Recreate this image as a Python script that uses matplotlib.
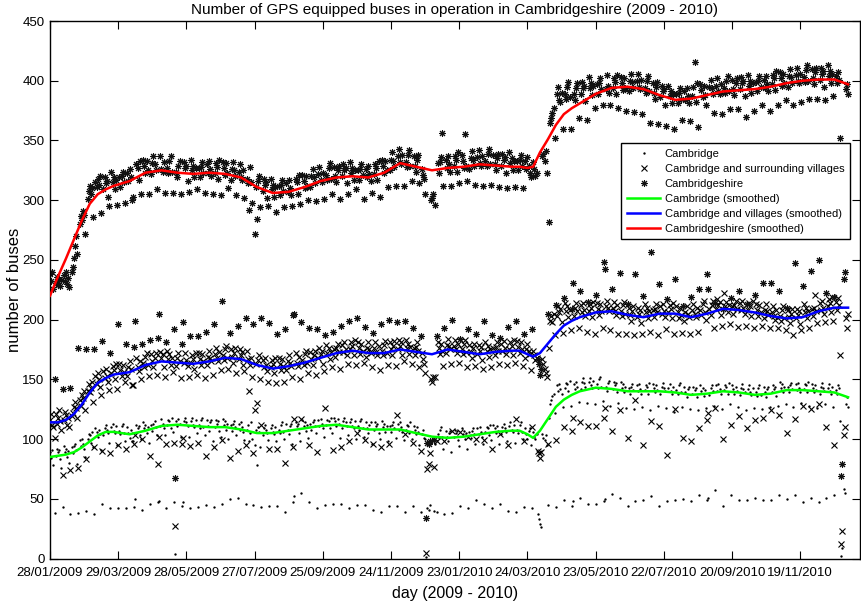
import matplotlib
matplotlib.use("Agg")
import matplotlib.pyplot as plt

plt.rcParams['font.family'] = ['Liberation Sans', 'DejaVu Sans']

# ---------------- data (one row per calendar week, Mon..Sun; first row starts Wed 28/01/2009) ----------------
shire_rows = [
 [238, 232, 240, 226, 150],
 [231, 236, 229, 234, 228, 233, 142],
 [237, 232, 240, 230, 235, 227, 143],
 [240, 244, 252, 262, 270, 255, 176],
 [280, 287, 283, 291, 288, 272, 175],
 [301, 308, 312, 305, 310, 286, 175],
 [315, 311, 318, 313, 320, 289, 182],
 [309, 319, 314, 316, 303, 295, 172],
 [324, 315, 319, 309, 317, 296, 196],
 [319, 311, 320, 324, 315, 298, 180],
 [323, 316, 326, 319, 300, 303, 177],
 [199, 330, 327, 317, 333, 305, 180],
 [334, 329, 323, 333, 325, 305, 183],
 [322, 331, 337, 330, 325, 309, 185],
 [205, 337, 326, 324, 332, 306, 181],
 [327, 323, 333, 337, 324, 306, 192],
 [67, 324, 319, 329, 333, 305, 180],
 [198, 332, 327, 329, 316, 307, 186],
 [334, 325, 329, 319, 327, 309, 186],
 [327, 319, 328, 332, 323, 306, 190],
 [330, 323, 333, 326, 320, 305, 196],
 [323, 331, 328, 318, 334, 304, 216],
 [332, 327, 321, 331, 323, 310, 189],
 [317, 326, 332, 325, 320, 304, 195],
 [324, 330, 319, 317, 325, 302, 201],
 [318, 314, 292, 328, 315, 298, 196],
 [272, 311, 284, 316, 320, 294, 201],
 [308, 318, 313, 315, 302, 295, 197],
 [318, 309, 313, 303, 311, 290, 188],
 [312, 304, 313, 317, 308, 294, 192],
 [314, 307, 317, 310, 304, 295, 204],
 [205, 318, 315, 305, 321, 297, 198],
 [321, 316, 310, 320, 312, 300, 193],
 [311, 320, 326, 319, 314, 299, 192],
 [322, 328, 317, 315, 323, 301, 187],
 [321, 317, 327, 331, 318, 305, 190],
 [328, 320, 315, 325, 329, 301, 195],
 [320, 330, 325, 327, 314, 305, 199],
 [332, 323, 327, 317, 325, 309, 201],
 [325, 317, 326, 330, 321, 301, 194],
 [326, 319, 329, 322, 316, 306, 189],
 [322, 330, 327, 317, 333, 303, 196],
 [334, 329, 323, 333, 325, 311, 200],
 [325, 334, 340, 333, 328, 312, 198],
 [337, 343, 332, 330, 338, 312, 199],
 [332, 328, 338, 342, 329, 316, 193],
 [337, 329, 324, 334, 338, 314, 186],
 [326, 321, 318, 305, 34, 97, 96],
 [98, 300, 302, 305, 99, 296, 186],
 [331, 323, 332, 336, 356, 312, 193],
 [334, 327, 337, 330, 324, 312, 200],
 [329, 337, 334, 324, 340, 314, 184],
 [338, 333, 327, 355, 329, 316, 192],
 [326, 335, 341, 334, 329, 313, 188],
 [336, 342, 331, 329, 337, 312, 199],
 [333, 329, 339, 343, 330, 313, 187],
 [338, 330, 325, 335, 339, 311, 185],
 [329, 339, 334, 336, 323, 310, 194],
 [340, 331, 335, 325, 333, 311, 199],
 [333, 325, 334, 338, 329, 310, 188],
 [333, 326, 336, 329, 323, 319, 192],
 [332, 326, 320, 323, 167, 163, 154],
 [159, 337, 339, 333, 341, 323, 205],
 [282, 365, 369, 373, 377, 352, 212],
 [389, 395, 384, 382, 390, 360, 218],
 [389, 385, 395, 399, 386, 360, 209],
 [231, 389, 384, 394, 398, 369, 224],
 [389, 399, 394, 396, 383, 367, 215],
 [403, 394, 398, 388, 396, 377, 221],
 [397, 389, 398, 402, 393, 380, 248],
 [242, 393, 405, 396, 390, 380, 226],
 [394, 402, 399, 389, 405, 377, 239],
 [403, 398, 392, 402, 394, 375, 213],
 [391, 400, 406, 399, 394, 374, 238],
 [400, 406, 395, 393, 401, 372, 220],
 [394, 390, 400, 404, 391, 365, 257],
 [398, 390, 385, 395, 399, 364, 230],
 [386, 396, 391, 393, 380, 362, 217],
 [396, 387, 391, 381, 389, 360, 234],
 [389, 381, 390, 394, 385, 367, 211],
 [391, 384, 394, 387, 381, 366, 219],
 [387, 395, 416, 382, 398, 361, 226],
 [397, 392, 386, 396, 388, 380, 238],
 [226, 395, 401, 394, 389, 373, 214],
 [396, 402, 391, 389, 397, 372, 209],
 [394, 390, 400, 404, 391, 376, 218],
 [401, 393, 388, 398, 402, 376, 224],
 [393, 403, 398, 400, 387, 370, 213],
 [405, 396, 400, 390, 398, 375, 221],
 [399, 391, 400, 404, 395, 380, 231],
 [401, 394, 404, 397, 391, 375, 231],
 [397, 405, 402, 392, 408, 380, 224],
 [407, 402, 396, 406, 398, 384, 210],
 [395, 404, 410, 403, 398, 380, 247],
 [405, 411, 400, 398, 406, 382, 228],
 [403, 399, 409, 413, 400, 385, 241],
 [410, 402, 397, 407, 411, 385, 250],
 [401, 411, 406, 408, 395, 384, 222],
 [413, 404, 408, 398, 406, 387, 219],
 [404, 398, 407, 401, 352, 69, 79],
 [234, 240, 393, 397, 389],
]

villages_rows = [
 [116, 121, 112, 110, 101],
 [121, 113, 118, 124, 115, 108, 70],
 [116, 123, 120, 112, 118, 110, 74],
 [119, 122, 127, 131, 126, 118, 76],
 [133, 128, 137, 134, 140, 124, 83],
 [140, 146, 139, 143, 148, 131, 93],
 [153, 146, 155, 150, 144, 137, 90],
 [157, 151, 159, 153, 148, 141, 88],
 [155, 161, 158, 150, 163, 142, 95],
 [163, 158, 153, 162, 156, 148, 92],
 [153, 160, 165, 159, 145, 145, 96],
 [103, 168, 160, 157, 165, 150, 100],
 [164, 160, 169, 172, 162, 153, 86],
 [171, 165, 160, 168, 172, 154, 79],
 [102, 173, 168, 171, 160, 152, 96],
 [174, 167, 171, 162, 168, 156, 97],
 [27, 161, 168, 172, 165, 151, 96],
 [101, 164, 172, 166, 161, 152, 94],
 [164, 170, 167, 159, 172, 154, 97],
 [172, 167, 162, 171, 165, 151, 86],
 [162, 169, 174, 168, 165, 154, 93],
 [171, 176, 168, 165, 173, 158, 99],
 [170, 166, 175, 178, 168, 159, 84],
 [175, 169, 164, 172, 176, 155, 90],
 [167, 175, 170, 173, 162, 157, 95],
 [174, 167, 140, 162, 168, 152, 88],
 [124, 163, 130, 166, 170, 150, 112],
 [166, 160, 168, 162, 157, 148, 92],
 [160, 166, 163, 155, 168, 147, 92],
 [168, 163, 158, 167, 161, 148, 80],
 [158, 165, 170, 164, 161, 152, 93],
 [117, 172, 164, 161, 169, 150, 117],
 [166, 162, 171, 174, 164, 155, 95],
 [173, 167, 162, 170, 174, 154, 89],
 [168, 176, 171, 174, 163, 157, 126],
 [179, 172, 176, 167, 173, 160, 91],
 [175, 169, 176, 180, 173, 159, 93],
 [179, 173, 181, 175, 170, 163, 98],
 [175, 181, 178, 170, 183, 162, 105],
 [181, 176, 171, 180, 174, 164, 99],
 [169, 176, 181, 175, 172, 160, 96],
 [176, 181, 173, 170, 178, 158, 93],
 [174, 170, 179, 182, 172, 162, 96],
 [181, 175, 170, 178, 182, 161, 120],
 [175, 183, 178, 181, 170, 165, 104],
 [183, 176, 180, 171, 177, 163, 97],
 [176, 170, 177, 181, 174, 160, 90],
 [172, 167, 163, 155, 5, 75, 79],
 [88, 150, 148, 152, 77, 152, 98],
 [181, 176, 171, 180, 174, 161, 98],
 [172, 179, 184, 178, 175, 163, 107],
 [178, 183, 175, 172, 180, 164, 106],
 [175, 171, 180, 183, 173, 160, 102],
 [179, 173, 168, 176, 180, 161, 100],
 [171, 179, 174, 177, 166, 159, 99],
 [181, 174, 178, 169, 175, 160, 92],
 [176, 170, 177, 181, 174, 163, 104],
 [180, 174, 182, 176, 171, 162, 95],
 [175, 181, 178, 170, 183, 164, 117],
 [182, 177, 172, 181, 175, 161, 98],
 [168, 175, 180, 174, 171, 158, 110],
 [174, 170, 166, 168, 90, 88, 84],
 [89, 167, 163, 159, 155, 152, 96],
 [176, 199, 203, 198, 205, 187, 99],
 [203, 211, 206, 209, 198, 189, 110],
 [214, 207, 211, 202, 208, 191, 107],
 [118, 203, 210, 214, 207, 193, 114],
 [212, 206, 214, 208, 203, 190, 111],
 [207, 213, 210, 202, 215, 188, 111],
 [214, 209, 204, 213, 207, 193, 118],
 [126, 211, 216, 210, 207, 191, 107],
 [210, 215, 207, 204, 212, 188, 124],
 [207, 203, 212, 215, 205, 188, 101],
 [210, 204, 199, 207, 211, 187, 133],
 [202, 210, 205, 208, 197, 188, 95],
 [213, 206, 210, 201, 207, 190, 115],
 [208, 202, 209, 213, 206, 187, 111],
 [211, 205, 213, 207, 202, 192, 87],
 [206, 212, 209, 201, 214, 188, 125],
 [211, 206, 201, 210, 204, 189, 101],
 [199, 206, 211, 205, 202, 188, 98],
 [208, 213, 205, 202, 210, 190, 109],
 [208, 204, 213, 216, 206, 200, 116],
 [122, 209, 204, 212, 216, 193, 126],
 [209, 217, 212, 215, 204, 195, 100],
 [222, 211, 215, 206, 212, 196, 112],
 [211, 205, 212, 216, 209, 194, 119],
 [214, 208, 216, 210, 205, 195, 109],
 [208, 214, 211, 203, 216, 193, 116],
 [213, 208, 203, 212, 206, 195, 118],
 [201, 208, 213, 207, 204, 193, 124],
 [206, 211, 203, 200, 208, 193, 120],
 [203, 199, 208, 211, 201, 191, 105],
 [208, 202, 197, 205, 209, 187, 117],
 [201, 209, 204, 207, 196, 191, 128],
 [213, 206, 210, 201, 207, 193, 125],
 [209, 203, 210, 221, 207, 197, 129],
 [214, 208, 216, 210, 205, 198, 110],
 [211, 217, 214, 206, 219, 199, 95],
 [215, 208, 218, 212, 170, 12, 23],
 [103, 110, 201, 193, 205],
]

cambridge_rows = [
 [89, 84, 91, 78, 38],
 [86, 92, 89, 91, 83, 76, 43],
 [94, 89, 92, 85, 90, 80, 37],
 [93, 88, 94, 96, 91, 79, 38],
 [99, 94, 100, 96, 92, 85, 40],
 [100, 104, 103, 97, 106, 93, 37],
 [109, 106, 102, 108, 104, 91, 46],
 [103, 109, 112, 108, 105, 97, 42],
 [110, 113, 107, 105, 111, 95, 42],
 [107, 104, 111, 113, 105, 98, 42],
 [110, 105, 101, 108, 98, 98, 43],
 [50, 112, 109, 111, 103, 100, 41],
 [114, 109, 112, 105, 110, 97, 46],
 [112, 107, 113, 115, 110, 103, 47],
 [48, 111, 117, 113, 109, 103, 42],
 [112, 116, 115, 109, 118, 106, 47],
 [4, 115, 111, 117, 113, 102, 44],
 [47, 115, 118, 114, 111, 102, 42],
 [115, 118, 112, 110, 116, 105, 43],
 [112, 109, 116, 118, 110, 103, 45],
 [116, 111, 107, 114, 116, 98, 43],
 [110, 116, 113, 115, 107, 102, 46],
 [117, 112, 115, 108, 113, 100, 50],
 [112, 107, 113, 115, 110, 103, 51],
 [113, 108, 114, 110, 106, 99, 46],
 [108, 112, 98, 105, 114, 100, 45],
 [95, 108, 78, 110, 106, 93, 43],
 [103, 109, 112, 108, 105, 99, 44],
 [109, 112, 106, 104, 110, 98, 44],
 [108, 105, 112, 114, 106, 100, 39],
 [113, 108, 104, 111, 113, 96, 47],
 [52, 114, 111, 113, 105, 98, 55],
 [116, 111, 114, 107, 112, 101, 47],
 [113, 108, 114, 116, 111, 105, 42],
 [116, 111, 117, 113, 109, 102, 45],
 [112, 116, 115, 109, 118, 105, 46],
 [118, 115, 111, 117, 113, 101, 46],
 [109, 115, 118, 114, 111, 103, 42],
 [114, 117, 111, 109, 115, 100, 45],
 [111, 108, 115, 117, 109, 102, 45],
 [114, 109, 105, 112, 114, 96, 41],
 [108, 114, 111, 113, 105, 100, 39],
 [115, 110, 113, 106, 111, 98, 44],
 [111, 106, 112, 114, 109, 101, 44],
 [113, 108, 114, 110, 106, 99, 39],
 [108, 112, 111, 105, 114, 100, 44],
 [111, 108, 104, 110, 106, 95, 39],
 [104, 108, 101, 100, 1, 42, 41],
 [45, 97, 99, 100, 40, 96, 39],
 [104, 101, 108, 110, 102, 92, 37],
 [107, 102, 98, 105, 107, 89, 38],
 [102, 108, 105, 107, 99, 94, 44],
 [109, 104, 107, 100, 105, 92, 42],
 [106, 101, 107, 109, 104, 96, 49],
 [109, 104, 110, 106, 102, 96, 46],
 [106, 110, 109, 103, 112, 99, 42],
 [112, 109, 105, 111, 107, 96, 46],
 [104, 110, 113, 109, 106, 98, 40],
 [111, 114, 108, 106, 112, 97, 39],
 [108, 105, 112, 114, 106, 100, 43],
 [109, 104, 100, 107, 109, 95, 42],
 [106, 102, 100, 104, 37, 33, 29],
 [26, 104, 101, 99, 103, 95, 45],
 [118, 129, 133, 136, 138, 122, 43],
 [145, 140, 146, 142, 138, 127, 49],
 [143, 147, 146, 140, 149, 128, 44],
 [48, 146, 142, 148, 144, 131, 51],
 [142, 148, 151, 147, 144, 130, 46],
 [148, 151, 145, 143, 149, 129, 46],
 [146, 143, 150, 152, 144, 132, 48],
 [50, 144, 140, 147, 149, 128, 54],
 [142, 148, 145, 147, 139, 130, 51],
 [148, 143, 146, 139, 144, 126, 44],
 [143, 138, 144, 146, 141, 125, 48],
 [145, 140, 146, 142, 138, 127, 49],
 [141, 145, 144, 138, 147, 124, 52],
 [146, 143, 139, 145, 141, 128, 44],
 [138, 144, 147, 143, 140, 126, 48],
 [143, 146, 140, 138, 144, 123, 49],
 [141, 138, 145, 147, 139, 127, 50],
 [144, 139, 135, 142, 144, 125, 48],
 [138, 144, 141, 143, 135, 124, 53],
 [145, 140, 143, 136, 141, 126, 49],
 [51, 137, 143, 145, 140, 128, 57],
 [145, 140, 146, 142, 138, 125, 44],
 [141, 145, 144, 138, 147, 129, 53],
 [145, 142, 138, 144, 140, 127, 49],
 [137, 143, 146, 142, 139, 124, 49],
 [142, 145, 139, 137, 143, 126, 51],
 [139, 136, 143, 145, 137, 125, 49],
 [144, 139, 135, 142, 144, 127, 49],
 [139, 145, 142, 144, 136, 128, 53],
 [148, 143, 146, 139, 144, 129, 50],
 [144, 139, 145, 147, 142, 127, 53],
 [146, 141, 147, 143, 139, 130, 47],
 [142, 146, 145, 139, 148, 128, 51],
 [146, 143, 139, 145, 141, 126, 47],
 [138, 144, 147, 143, 140, 129, 51],
 [143, 146, 140, 138, 144, 127, 53],
 [141, 138, 145, 143, 115, 2, 9],
 [58, 55, 129, 135, 127],
]

# smoothed curves (day offset from 28/01/2009)
smooth_days = [0, 7, 14, 21, 28, 35, 42, 49, 56, 70, 84, 98, 112, 126, 140, 154, 168, 182, 196, 210,
               224, 238, 252, 266, 280, 294, 308, 322, 336, 350, 364, 378, 392, 406, 413, 420, 425, 431,
               438, 445, 452, 459, 466, 480, 494, 508, 522, 536, 550, 564, 578, 592, 606, 620, 634, 648,
               662, 676, 690, 702]
shire_smooth = [220, 236, 251, 267, 283, 297, 305, 309, 312, 316, 323, 325, 323, 322, 323, 322, 319, 311,
                306, 307, 311, 316, 319, 320, 319, 323, 331, 328, 325, 327, 328, 330, 329, 328, 328, 327,
                328, 340, 351, 363, 372, 377, 381, 389, 394, 395, 393, 388, 384, 385, 388, 391, 392, 393,
                395, 398, 400, 401, 401, 397]
villages_smooth = [114, 114, 116, 121, 129, 139, 147, 151, 154, 156, 162, 165, 164, 163, 165, 168, 167, 162,
                   159, 161, 164, 168, 172, 174, 172, 172, 175, 173, 171, 175, 173, 171, 173, 174, 174, 171,
                   169, 172, 180, 188, 195, 199, 202, 206, 207, 204, 202, 205, 205, 202, 205, 209, 208, 206,
                   203, 201, 202, 207, 210, 210]
cambridge_smooth = [85, 86, 87, 89, 93, 98, 103, 106, 106, 104, 107, 111, 112, 111, 110, 110, 108, 105, 105,
                    107, 109, 111, 112, 110, 108, 108, 108, 105, 102, 101, 102, 104, 106, 107, 107, 104, 101,
                    107, 117, 127, 133, 137, 140, 143, 142, 140, 140, 140, 139, 137, 138, 140, 139, 137, 138,
                    141, 141, 140, 139, 135]

tick_days = [0, 60, 120, 180, 240, 300, 360, 420, 480, 540, 600, 660]
tick_labels = ['28/01/2009', '29/03/2009', '28/05/2009', '27/07/2009', '25/09/2009', '24/11/2009',
               '23/01/2010', '24/03/2010', '23/05/2010', '22/07/2010', '20/09/2010', '19/11/2010']


def flat(rows):
    return [v for r in rows for v in r]


cambridge = flat(cambridge_rows)
villages = flat(villages_rows)
shire = flat(shire_rows)
assert len(cambridge) == len(villages) == len(shire) == 703
days = list(range(len(shire)))

fig = plt.figure(figsize=(8.62, 6.04), dpi=100)
ax = fig.add_axes([50 / 862, (604 - 558.5) / 604, 810 / 862, 537.5 / 604])

ax.plot(days, cambridge, linestyle='none', marker='o', ms=1.7, mfc='k', mec='k', mew=0,
        label='Cambridge', zorder=2)
ax.plot(days, villages, linestyle='none', marker='x', ms=4.0, mec='k', mew=0.8,
        label='Cambridge and surrounding villages', zorder=2)
ax.plot(days, shire, linestyle='none', marker=(8, 2, 0), ms=5.0, mec='#111111', mew=0.75,
        label='Cambridgeshire', zorder=2)
ax.plot(smooth_days, cambridge_smooth, color='#00ff00', lw=1.8, label='Cambridge (smoothed)', zorder=3)
ax.plot(smooth_days, villages_smooth, color='#0000ff', lw=1.8, label='Cambridge and villages (smoothed)', zorder=3)
ax.plot(smooth_days, shire_smooth, color='#ff0000', lw=1.8, label='Cambridgeshire (smoothed)', zorder=3)

ax.set_xlim(0, 712.5)
ax.set_ylim(0, 450)
ax.set_xticks(tick_days)
ax.set_xticklabels(tick_labels)
ax.set_yticks(range(0, 451, 50))
ax.tick_params(direction='in', top=True, right=True, length=5.5, width=0.8, labelsize=9.5)
ax.tick_params(axis='x', pad=6)
ax.tick_params(axis='y', pad=4)
for s in ax.spines.values():
    s.set_linewidth(1.0)

ax.set_title('Number of GPS equipped buses in operation in Cambridgeshire (2009 - 2010)', fontsize=11, pad=5)
ax.set_xlabel('day (2009 - 2010)', fontsize=11.5, labelpad=5)
ax.set_ylabel('number of buses', fontsize=12, labelpad=0)

leg = ax.legend(loc='upper right', bbox_to_anchor=(800 / 810, (558.5 - 143) / 537.5), borderaxespad=0,
                fontsize=8, frameon=True, fancybox=False, edgecolor='k', framealpha=1,
                labelspacing=0.45, handlelength=3.0, handletextpad=0.4, borderpad=0.5)
leg.get_frame().set_linewidth(1.0)

fig.savefig('out.png', dpi=100)
